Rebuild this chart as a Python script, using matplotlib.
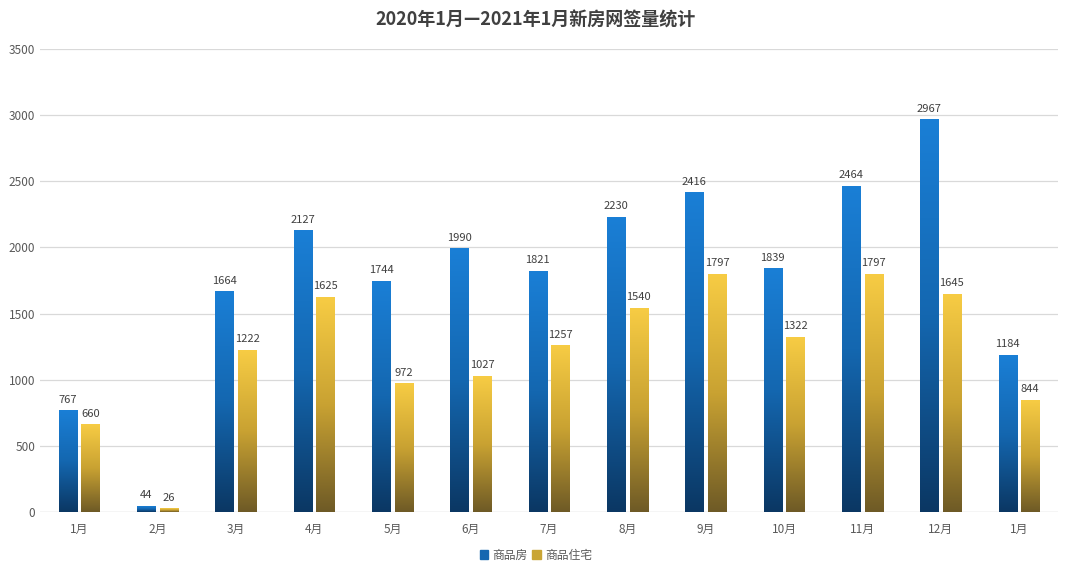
import matplotlib.pyplot as plt
import numpy as np
from matplotlib.colors import LinearSegmentedColormap
from matplotlib.patches import Patch

plt.rcParams['font.family'] = ['Noto Sans CJK SC', 'DejaVu Sans']

months = ["1月", "2月", "3月", "4月", "5月", "6月", "7月", "8月", "9月", "10月", "11月", "12月", "1月"]
commercial = [767, 44, 1664, 2127, 1744, 1990, 1821, 2230, 2416, 1839, 2464, 2967, 1184]
residential = [660, 26, 1222, 1625, 972, 1027, 1257, 1540, 1797, 1322, 1797, 1645, 844]
series_names = ["商品房", "商品住宅"]

blue_cmap = LinearSegmentedColormap.from_list("b", ["#0b3763", "#1467b0", "#1a7fd6"])
gold_cmap = LinearSegmentedColormap.from_list("y", ["#6e5a26", "#c9a232", "#f7cc44"])

fig = plt.figure(figsize=(10.72, 5.71), dpi=100)
ax = fig.add_axes([0.0373, 0.1033, 0.9497, 0.8107])

x = np.arange(len(months))
width = 0.23
offset = 0.145
grad = np.linspace(0, 1, 256).reshape(-1, 1)


def gradient_bars(xs, vals, cmap):
    bars = ax.bar(xs, vals, width, color="none", edgecolor="none")
    for b in bars:
        bx, by = b.get_x(), b.get_y()
        bw, bh = b.get_width(), b.get_height()
        ax.imshow(grad, cmap=cmap, origin="lower", aspect="auto",
                  extent=[bx, bx + bw, by, by + bh], zorder=2)
    return bars


b1 = gradient_bars(x - offset, commercial, blue_cmap)
b2 = gradient_bars(x + offset, residential, gold_cmap)

for xs, vals in ((x - offset, commercial), (x + offset, residential)):
    for xi, v in zip(xs, vals):
        ax.text(xi, v + 45, str(v), ha="center", va="bottom", fontsize=8, color="#404040")

ax.set_xlim(-0.5, len(months) - 0.5)
ax.set_ylim(0, 3500)
ax.set_yticks(np.arange(0, 3501, 500))
ax.set_xticks(x)
ax.set_xticklabels(months)
ax.tick_params(axis="both", length=0, labelsize=8.5, labelcolor="#595959")
ax.tick_params(axis="x", pad=8)
ax.grid(axis="y", color="#d9d9d9", linewidth=0.9, zorder=0)
ax.set_axisbelow(True)
for s in ax.spines.values():
    s.set_visible(False)
ax.axhline(0, color="#d9d9d9", linewidth=0.9, zorder=1)

fig.text(0.5, 0.965, "2020年1月—2021年1月新房网签量统计", ha="center", va="center",
         fontsize=13, fontweight="bold", color="#404040")

handles = [Patch(color="#1667b0"), Patch(color="#c9a535")]
fig.legend(handles, series_names, loc="center", bbox_to_anchor=(0.5, 0.028), ncol=2,
           frameon=False, fontsize=8.5, handlelength=0.7, handleheight=0.7,
           handletextpad=0.4, columnspacing=0.4, labelcolor="#595959")

fig.savefig("out.png", dpi=100)
